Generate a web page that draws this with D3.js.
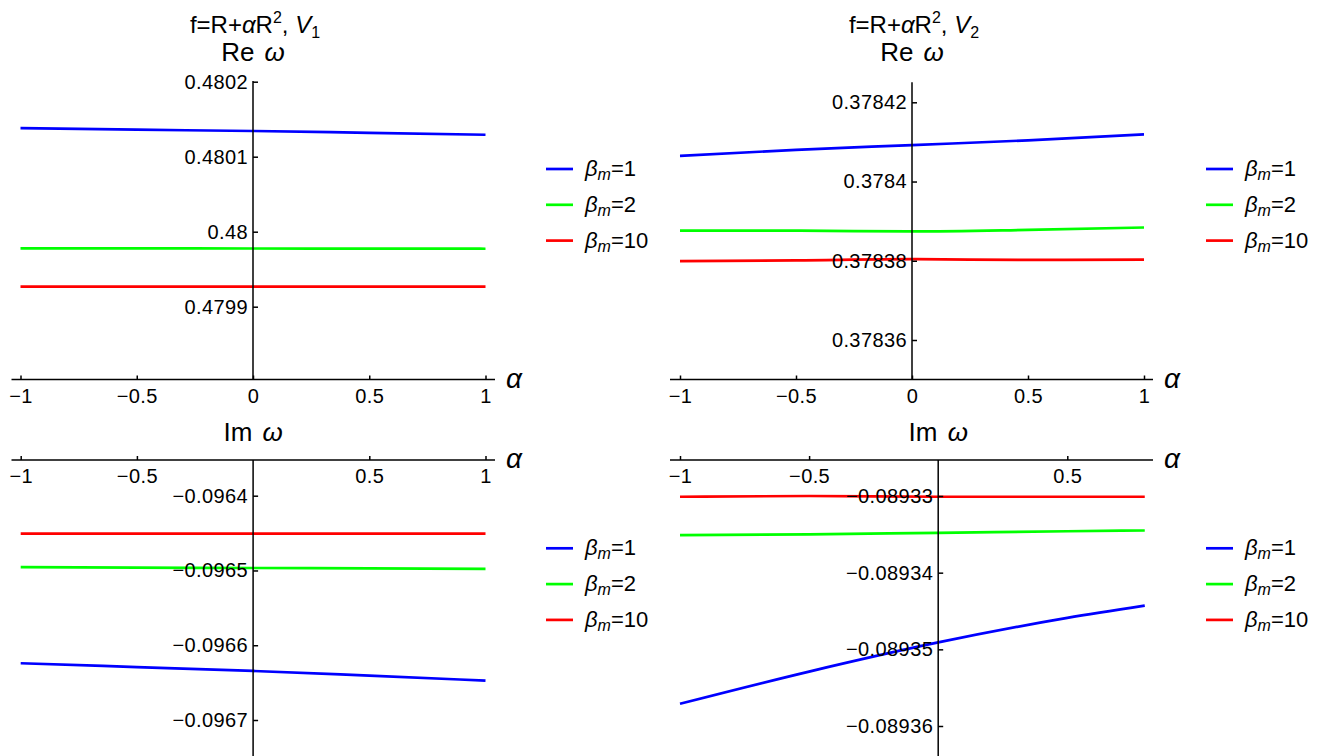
<!DOCTYPE html>
<html>
<head>
<meta charset="utf-8">
<script src="https://cdnjs.cloudflare.com/ajax/libs/d3/7.8.5/d3.min.js"></script>
<style>
  body { margin: 0; background: #fff; }
  svg { display: block; font-family: "Liberation Sans", Arial, sans-serif; }
  .axis text { font-size: 20px; fill: #000; letter-spacing: 0.4px; }
  .axis line { stroke: #000; stroke-width: 1.5; }
  .axis-line { stroke: #000; stroke-width: 2; }
  .curve { fill: none; stroke-width: 2.7; }
</style>
</head>
<body>
<div id="chart"></div>
<script>
// DATA
var alpha = [-1, -0.5, 0, 0.5, 1]
var alphaImV2 = [-1, -0.5, 0, 0.5, 0.8]

var reV1Beta1 = [0.4801380, 0.4801360, 0.4801343, 0.4801318, 0.4801293]
var reV1Beta2 = [0.4799779, 0.4799777, 0.4799776, 0.4799774, 0.4799773]
var reV1Beta10 = [0.4799267, 0.4799267, 0.4799267, 0.4799267, 0.4799267]

var reV2Beta1 = [0.3784065, 0.3784080, 0.3784092, 0.3784104, 0.3784119]
var reV2Beta2 = [0.3783876, 0.3783876, 0.3783874, 0.3783878, 0.3783884]
var reV2Beta10 = [0.3783799, 0.3783801, 0.3783804, 0.3783802, 0.3783803]

var imV1Beta1 = [-0.0966241, -0.0966292, -0.0966344, -0.0966407, -0.0966473]
var imV1Beta2 = [-0.0964955, -0.0964961, -0.0964967, -0.0964973, -0.0964978]
var imV1Beta10 = [-0.0964508, -0.0964508, -0.0964508, -0.0964508, -0.0964508]

var imV2Beta1 = [-0.0893571, -0.0893529, -0.0893491, -0.0893459, -0.0893443]
var imV2Beta2 = [-0.0893351, -0.0893350, -0.0893348, -0.0893346, -0.0893345]
var imV2Beta10 = [-0.0893301, -0.0893300, -0.0893301, -0.0893301, -0.0893301]

var betaLabels = ["1", "2", "10"]
var colors = ["#0000ff", "#00ff00", "#ff0000"]

var xTicksTop = [-1, -0.5, 0, 0.5, 1]
var xTicksBottomLeft = [-1, -0.5, 0.5, 1]
var xTicksBottomRight = [-1, -0.5, 0.5]

var reV1Ticks = [0.4799, 0.48, 0.4801, 0.4802]
var reV2Ticks = [0.37836, 0.37838, 0.3784, 0.37842]
var imV1Ticks = [-0.0967, -0.0966, -0.0965, -0.0964]
var imV2Ticks = [-0.08936, -0.08935, -0.08934, -0.08933]

// PANELS (layout in pixels)
var panels = [
  { title: "1", yLabel: "Re", x: alpha, series: [reV1Beta1, reV1Beta2, reV1Beta10],
    xDomain: [-1, 1], xRange: [20.5, 485.5], xTicks: xTicksTop,
    yDomain: [0.4799, 0.4802], yRange: [306.7, 81.7], yTicks: reV1Ticks,
    axisY: 379.5, xLine: [11.5, 495], yLine: [81, 379.5], legend: [546, 169] },
  { title: "2", yLabel: "Re", x: alpha, series: [reV2Beta1, reV2Beta2, reV2Beta10],
    xDomain: [-1, 1], xRange: [680, 1144], xTicks: xTicksTop,
    yDomain: [0.37836, 0.37842], yRange: [340, 102.3], yTicks: reV2Ticks,
    axisY: 379.5, xLine: [670, 1153], yLine: [82.3, 379.5], legend: [1206, 169] },
  { yLabel: "Im", x: alpha, series: [imV1Beta1, imV1Beta2, imV1Beta10],
    xDomain: [-1, 1], xRange: [20.7, 485.5], xTicks: xTicksBottomLeft,
    yDomain: [-0.0967, -0.0964], yRange: [720, 495.7], yTicks: imV1Ticks,
    axisY: 460, xLine: [11.5, 495], yLine: [460, 756], legend: [546, 548.3] },
  { yLabel: "Im", x: alphaImV2, series: [imV2Beta1, imV2Beta2, imV2Beta10],
    xDomain: [-1, 0.5], xRange: [680, 1067.3], xTicks: xTicksBottomRight,
    yDomain: [-0.08936, -0.08933], yRange: [726, 496], yTicks: imV2Ticks,
    axisY: 460, xLine: [670, 1153], yLine: [460, 756], legend: [1206, 548.3] }
]

var width = 1322, height = 756

var svg = d3.select("#chart")
  .append("svg")
  .attr("width", width)
  .attr("height", height)

function fmt(d) {
  var s = String(+Math.abs(d).toFixed(7))
  return d < 0 ? "\u2212" + s : s
}

panels.forEach(function(p) {
  var g = svg.append("g")

  var x = d3.scaleLinear().domain(p.xDomain).range(p.xRange)
  var y = d3.scaleLinear().domain(p.yDomain).range(p.yRange)

  // curves
  var line = d3.line()
    .x(function(d) { return x(d[0]) })
    .y(function(d) { return y(d[1]) })
    .curve(d3.curveMonotoneX)

  p.series.forEach(function(vals, i) {
    g.append("path")
      .attr("class", "curve")
      .attr("stroke", colors[i])
      .attr("d", line(d3.zip(p.x, vals)))
  })

  // x axis
  var xAxis = d3.axisBottom(x)
    .tickValues(p.xTicks)
    .tickSizeInner(-4)
    .tickSizeOuter(0)
    .tickPadding(9)
    .tickFormat(fmt)

  var gx = g.append("g")
    .attr("class", "axis x-axis")
    .attr("transform", "translate(0," + p.axisY + ")")
    .call(xAxis)
  gx.select(".domain").remove()
  gx.append("line")
    .attr("class", "axis-line")
    .attr("x1", p.xLine[0]).attr("x2", p.xLine[1])

  // y axis sits at alpha = 0
  var yAxis = d3.axisLeft(y)
    .tickValues(p.yTicks)
    .tickSizeInner(-5)
    .tickSizeOuter(0)
    .tickPadding(5)
    .tickFormat(fmt)

  var gy = g.append("g")
    .attr("class", "axis y-axis")
    .attr("transform", "translate(" + x(0) + ",0)")
    .call(yAxis)
  gy.select(".domain").remove()
  gy.append("line")
    .attr("class", "axis-line")
    .attr("y1", p.yLine[0]).attr("y2", p.yLine[1])

  // axis labels
  g.append("text")
    .attr("x", p.xLine[1] + 19)
    .attr("y", p.axisY + 8)
    .attr("text-anchor", "middle")
    .attr("font-size", 28)
    .attr("font-style", "italic")
    .text("\u03b1")

  var yl = g.append("text")
    .attr("x", x(0))
    .attr("y", p.title ? 61 : p.axisY - 19)
    .attr("text-anchor", "middle")
    .attr("font-size", 26)
  yl.append("tspan").text(p.yLabel + "\u00a0")
  yl.append("tspan").attr("font-style", "italic").attr("dx", 3).text("\u03c9")

  // plot label
  if (p.title) {
    var t = svg.append("text")
      .attr("x", x(0) + 2)
      .attr("y", 33)
      .attr("text-anchor", "middle")
      .attr("font-size", 24)
    t.append("tspan").text("f=R+")
    t.append("tspan").attr("font-style", "italic").text("\u03b1")
    t.append("tspan").text("R")
    t.append("tspan").attr("font-size", 16).attr("dy", -10).text("2")
    t.append("tspan").attr("dy", 10).text(", ")
    t.append("tspan").attr("font-style", "italic").text("V")
    t.append("tspan").attr("font-size", 16).attr("dy", 5).text(p.title)
  }

  // legend
  var leg = g.append("g")
    .attr("transform", "translate(" + p.legend[0] + "," + p.legend[1] + ")")
  betaLabels.forEach(function(b, i) {
    var row = leg.append("g").attr("transform", "translate(0," + (i * 35.8) + ")")
    row.append("line")
      .attr("x1", 0).attr("x2", 27)
      .attr("stroke", colors[i])
      .attr("stroke-width", 2.7)
    var lt = row.append("text")
      .attr("x", 39)
      .attr("y", 7)
      .attr("font-size", 22)
    lt.append("tspan").attr("font-style", "italic").text("\u03b2")
    lt.append("tspan").attr("font-style", "italic").attr("font-size", 16).attr("dy", 4).text("m")
    lt.append("tspan").attr("dy", -4).text("=" + b)
  })
})
</script>
</body>
</html>
